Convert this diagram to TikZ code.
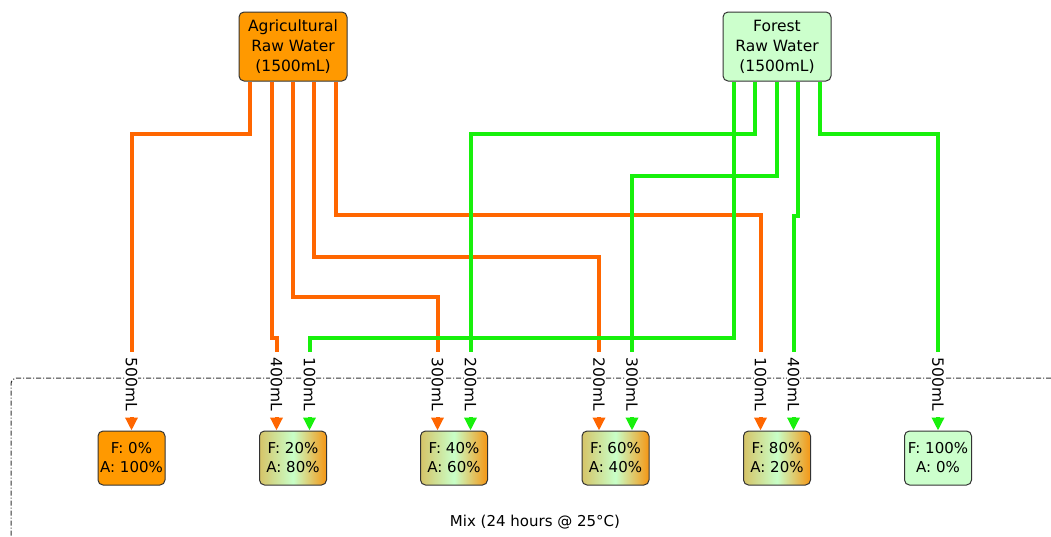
\documentclass[tikz,border=0pt]{standalone}
\usepackage{fontspec}
\setmainfont{DejaVu Sans}
\usetikzlibrary{arrows.meta}

\definecolor{boxedge}{RGB}{51,51,51}
\definecolor{agrifill}{RGB}{255,153,0}
\definecolor{agripipe}{RGB}{255,102,0}
\definecolor{forestfill}{RGB}{204,255,204}
\definecolor{forestpipe}{RGB}{24,240,12}
\definecolor{mixleft}{RGB}{214,196,104}
\definecolor{mixmid}{RGB}{200,255,200}
\definecolor{mixright}{RGB}{245,150,20}

\tikzset{
  srcbox/.style={draw=boxedge, line width=1pt, rounded corners=5pt,
    minimum width=108pt, minimum height=69pt, inner sep=0pt, align=center,
    font=\fontsize{15.5}{20}\selectfont},
  mixbox/.style={draw=boxedge, line width=1pt, rounded corners=5pt,
    minimum width=67pt, minimum height=54pt, inner sep=0pt, align=center,
    font=\fontsize{15}{19}\selectfont},
  mixshade/.style={left color=mixleft, right color=mixright, middle color=mixmid},
  agriline/.style={agripipe, line width=4pt, -{Triangle[width=12pt,length=13pt]}},
  forestline/.style={forestpipe, line width=4pt, -{Triangle[width=12pt,length=13pt]}},
  vol/.style={fill=white, rotate=-90, inner xsep=0pt, inner ysep=1pt,
    minimum width=65pt, font=\fontsize{15.5}{18}\selectfont},
  mixframe/.style={boxedge, line width=1pt, rounded corners=6pt,
    dash pattern=on 5pt off 2pt on 1pt off 2pt}
}

\begin{document}
\begin{tikzpicture}[x=1pt,y=-1pt,font=\fontsize{15}{19}\selectfont]

\useasboundingbox (0,0) rectangle (1051,536);

% mixing area
\draw[mixframe] (1051,378) -| (11,536);
\node (mixlabel) at (535,522) {Mix (24 hours @ 25°C)};

% raw water
\node[srcbox, fill=agrifill] (agri) at (293,46.5)
{Agricultural\\Raw Water\\(1500mL)};
\node[srcbox, fill=forestfill] (forest) at (777,46.5)
{Forest\\Raw Water\\(1500mL)};

% mixtures
\node[mixbox, fill=agrifill] (m0) at (131.5,458) {F: 0\%\\A: 100\%};
\node[mixbox, mixshade] (m20) at (293,458) {F: 20\%\\A: 80\%};
\node[mixbox, mixshade] (m40) at (454,458) {F: 40\%\\A: 60\%};
\node[mixbox, mixshade] (m60) at (615.5,458) {F: 60\%\\A: 40\%};
\node[mixbox, mixshade] (m80) at (777,458) {F: 80\%\\A: 20\%};
\node[mixbox, fill=forestfill] (m100) at (938,458) {F: 100\%\\A: 0\%};

% agricultural water
\draw[agriline] ([xshift=-43pt]agri.south) -- ++(0,52) -| (m0.north);
\draw[agriline] ([xshift=-21pt]agri.south) -- ++(0,256) -| ([xshift=-16.5pt]m20.north);
\draw[agriline] (agri.south) -- ++(0,215) -| ([xshift=-16.5pt]m40.north);
\draw[agriline] ([xshift=21pt]agri.south) -- ++(0,175) -| ([xshift=-16.5pt]m60.north);
\draw[agriline] ([xshift=43pt]agri.south) -- ++(0,133) -| ([xshift=-16.5pt]m80.north);

% forest water
\draw[forestline] ([xshift=-43pt]forest.south) -- ++(0,256) -| ([xshift=16.5pt]m20.north);
\draw[forestline] ([xshift=-22pt]forest.south) -- ++(0,52) -| ([xshift=16.5pt]m40.north);
\draw[forestline] (forest.south) -- ++(0,94) -| ([xshift=16.5pt]m60.north);
\draw[forestline] ([xshift=21pt]forest.south) -- ++(0,134) -| ([xshift=16.5pt]m80.north);
\draw[forestline] ([xshift=43pt]forest.south) -- ++(0,52) -| (m100.north);

% volumes
\node[vol] (v0a) at ([yshift=46pt]m0.north) {500mL};
\node[vol] (v20a) at ([xshift=-16.5pt,yshift=46pt]m20.north) {400mL};
\node[vol] (v20f) at ([xshift=16.5pt,yshift=46pt]m20.north) {100mL};
\node[vol] (v40a) at ([xshift=-16.5pt,yshift=46pt]m40.north) {300mL};
\node[vol] (v40f) at ([xshift=16.5pt,yshift=46pt]m40.north) {200mL};
\node[vol] (v60a) at ([xshift=-16.5pt,yshift=46pt]m60.north) {200mL};
\node[vol] (v60f) at ([xshift=16.5pt,yshift=46pt]m60.north) {300mL};
\node[vol] (v80a) at ([xshift=-16.5pt,yshift=46pt]m80.north) {100mL};
\node[vol] (v80f) at ([xshift=16.5pt,yshift=46pt]m80.north) {400mL};
\node[vol] (v100f) at ([yshift=46pt]m100.north) {500mL};

\end{tikzpicture}
\end{document}
